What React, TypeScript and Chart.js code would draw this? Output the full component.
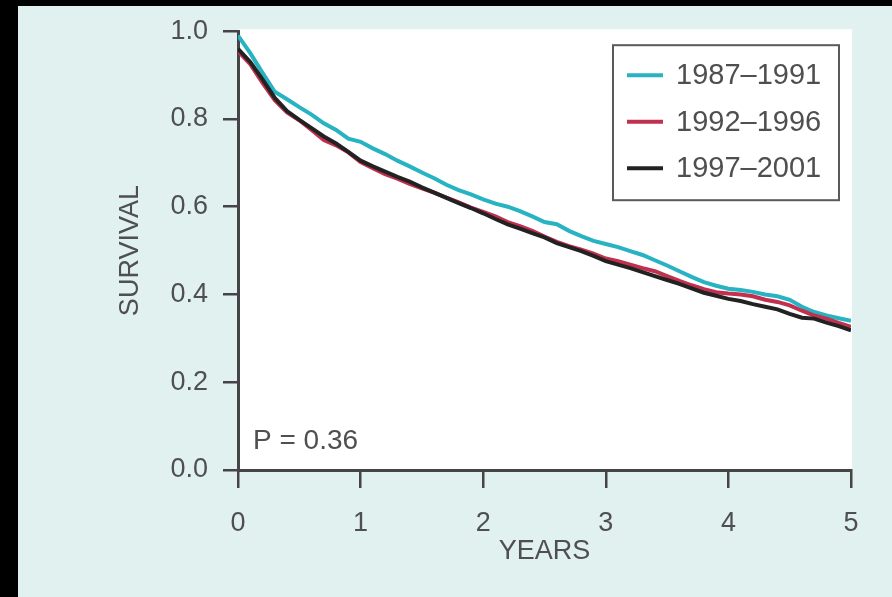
import React, { useEffect, useRef } from "react";
import { Chart, registerables } from "chart.js";

Chart.register(...registerables);

const years = [
  0.0, 0.1, 0.2, 0.3, 0.4, 0.5, 0.6, 0.7, 0.8, 0.9,
  1.0, 1.1, 1.2, 1.3, 1.4, 1.5, 1.6, 1.7, 1.8, 1.9,
  2.0, 2.1, 2.2, 2.3, 2.4, 2.5, 2.6, 2.7, 2.8, 2.9,
  3.0, 3.1, 3.2, 3.3, 3.4, 3.5, 3.6, 3.7, 3.8, 3.9,
  4.0, 4.1, 4.2, 4.3, 4.4, 4.5, 4.6, 4.7, 4.8, 4.9, 5.0,
];

const survival1987 = [
  0.99, 0.95, 0.905, 0.862, 0.845, 0.827, 0.81, 0.79, 0.775, 0.755,
  0.748, 0.733, 0.72, 0.705, 0.692, 0.678, 0.665, 0.65, 0.638, 0.628,
  0.617, 0.607, 0.6, 0.59, 0.578, 0.565, 0.56, 0.545, 0.533, 0.522,
  0.515, 0.508, 0.499, 0.49, 0.478, 0.466, 0.453, 0.44, 0.428, 0.42,
  0.413, 0.41, 0.406, 0.4, 0.396, 0.388, 0.372, 0.36, 0.352, 0.346, 0.34,
];

const survival1992 = [
  0.955, 0.925, 0.882, 0.843, 0.815, 0.797, 0.775, 0.752, 0.74, 0.724,
  0.702, 0.688, 0.674, 0.664, 0.652, 0.642, 0.632, 0.621, 0.61, 0.598,
  0.588, 0.578, 0.565, 0.556, 0.545, 0.532, 0.52, 0.51, 0.502, 0.493,
  0.482, 0.476, 0.468, 0.46, 0.453, 0.442, 0.431, 0.421, 0.412, 0.405,
  0.402, 0.4, 0.396, 0.388, 0.383, 0.375, 0.363, 0.352, 0.345, 0.335, 0.326,
];

const survival1997 = [
  0.96, 0.93, 0.89, 0.848, 0.818, 0.798, 0.779, 0.76, 0.744, 0.725,
  0.705, 0.692, 0.68, 0.668, 0.657, 0.644, 0.632, 0.62, 0.608, 0.597,
  0.585, 0.572, 0.56, 0.55, 0.54, 0.53, 0.517, 0.508, 0.499, 0.488,
  0.476, 0.468, 0.46, 0.451, 0.442, 0.433, 0.424, 0.414, 0.404, 0.397,
  0.39, 0.385, 0.378, 0.372, 0.366, 0.356, 0.347, 0.345, 0.336, 0.328, 0.318,
];

const seriesLabels = ["1987\u20131991", "1992\u20131996", "1997\u20132001"];
const seriesColors = ["#27b3c2", "#c2304f", "#222222"];
const seriesOrder = [2, 1, 0];
const pValueText = "P = 0.36";
const xTitle = "YEARS";
const yTitle = "SURVIVAL";

const FONT = "'Liberation Sans', Arial, Helvetica, sans-serif";
const TEXT_COLOR = "#4f4f4f";
const AXIS_COLOR = "#454545";

export default function App() {
  const canvasRef = useRef<HTMLCanvasElement | null>(null);

  useEffect(() => {
    const canvas = canvasRef.current;
    if (!canvas) return;

    const plotBg = {
      id: "plotBg",
      beforeDraw(chart: any) {
        const { ctx, chartArea } = chart;
        ctx.save();
        ctx.fillStyle = "#ffffff";
        ctx.fillRect(chartArea.left, chartArea.top - 2, chartArea.right - chartArea.left + 1, chartArea.bottom - chartArea.top + 2);
        ctx.restore();
      },
    };

    const overlay = {
      id: "overlay",
      afterDraw(chart: any) {
        const { ctx, chartArea } = chart;
        ctx.save();
        ctx.font = `28px ${FONT}`;
        ctx.fillStyle = TEXT_COLOR;
        ctx.textAlign = "left";
        ctx.textBaseline = "middle";
        ctx.fillText(pValueText, chartArea.left + 15, chartArea.bottom - 29);

        const boxRight = chartArea.right - 12;
        const boxLeft = boxRight - 226;
        const boxTop = chartArea.top + 14;
        const boxH = 155;
        ctx.fillStyle = "#ffffff";
        ctx.fillRect(boxLeft, boxTop, boxRight - boxLeft, boxH);
        ctx.strokeStyle = "#5a5a5a";
        ctx.lineWidth = 2;
        ctx.strokeRect(boxLeft, boxTop, boxRight - boxLeft, boxH);
        chart.data.datasets.forEach((ds: any, i: number) => {
          const cy = boxTop + 30 + i * 46.5;
          ctx.strokeStyle = ds.borderColor;
          ctx.lineWidth = 4;
          ctx.beginPath();
          ctx.moveTo(boxLeft + 14, cy);
          ctx.lineTo(boxLeft + 50, cy);
          ctx.stroke();
          ctx.fillStyle = TEXT_COLOR;
          ctx.font = `29px ${FONT}`;
          ctx.textAlign = "left";
          ctx.textBaseline = "middle";
          ctx.fillText(ds.label, boxLeft + 63, cy + 1);
        });
        ctx.restore();
      },
    };

    const datasets = [survival1987, survival1992, survival1997].map((vals, i) => ({
      label: seriesLabels[i],
      data: years.map((t, j) => ({ x: t, y: vals[j] })),
      borderColor: seriesColors[i],
      backgroundColor: seriesColors[i],
      borderWidth: 4,
      pointRadius: 0,
      tension: 0,
      fill: false,
      order: seriesOrder[i],
    }));

    const chart = new Chart(canvas, {
      type: "line",
      data: { datasets },
      options: {
        animation: false,
        responsive: false,
        maintainAspectRatio: false,
        layout: { padding: { top: 29, right: 41, left: 0, bottom: 0 } },
        plugins: {
          legend: { display: false },
          tooltip: { enabled: false },
        },
        scales: {
          x: {
            type: "linear",
            min: 0,
            max: 5,
            afterFit(scale: any) {
              scale.height = 127;
            },
            ticks: {
              stepSize: 1,
              padding: 19,
              color: TEXT_COLOR,
              font: { family: FONT, size: 27 },
              maxRotation: 0,
            },
            grid: {
              drawOnChartArea: false,
              drawTicks: true,
              tickLength: 18,
              color: AXIS_COLOR,
              tickColor: AXIS_COLOR,
              lineWidth: 2.5,
              tickWidth: 2.5,
            },
            border: { display: true, color: AXIS_COLOR, width: 3 },
            title: {
              display: true,
              text: xTitle,
              color: TEXT_COLOR,
              font: { family: FONT, size: 27 },
              padding: { top: 0, bottom: 29 },
            },
          },
          y: {
            type: "linear",
            min: 0,
            max: 1,
            afterFit(scale: any) {
              scale.width = 238;
            },
            ticks: {
              stepSize: 0.2,
              padding: 15,
              color: TEXT_COLOR,
              font: { family: FONT, size: 27 },
              callback: (v: any) => Number(v).toFixed(1),
            },
            grid: {
              drawOnChartArea: false,
              drawTicks: true,
              tickLength: 15,
              color: AXIS_COLOR,
              tickColor: AXIS_COLOR,
              lineWidth: 2.5,
              tickWidth: 2.5,
            },
            border: { display: true, color: AXIS_COLOR, width: 3 },
            title: {
              display: true,
              text: yTitle,
              color: TEXT_COLOR,
              font: { family: FONT, size: 27 },
              padding: { top: 114, bottom: 0 },
            },
          },
        },
      },
      plugins: [plotBg, overlay],
    });

    return () => chart.destroy();
  }, []);

  return (
    <div style={{ position: "fixed", left: 0, top: 0, width: 892, height: 597, background: "#000000", overflow: "hidden" }}>
      <div style={{ position: "absolute", left: 18, top: 6, width: 874, height: 591, background: "#e0f1ef" }} />
      <canvas ref={canvasRef} width={892} height={597} style={{ position: "absolute", left: 0, top: 0, width: 892, height: 597 }} />
    </div>
  );
}
